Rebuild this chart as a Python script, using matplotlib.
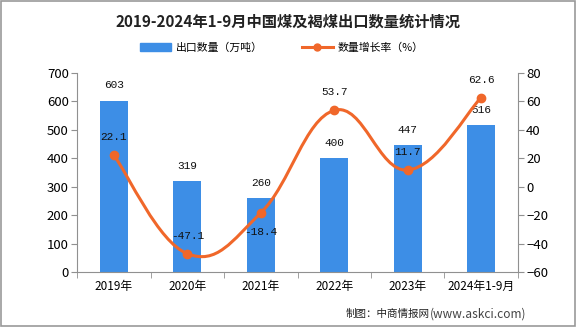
import matplotlib
matplotlib.use("Agg")
import numpy as np
import matplotlib.pyplot as plt
from matplotlib.path import Path
from matplotlib.patches import PathPatch, Rectangle
from matplotlib.lines import Line2D

plt.rcParams['font.family'] = ['Noto Sans CJK SC', 'DejaVu Sans']

# Data
years = ["2019年", "2020年", "2021年", "2022年", "2023年", "2024年1-9月"]
volume = [603, 319, 260, 400, 447, 516]
growth = [22.1, -47.1, -18.4, 53.7, 11.7, 62.6]
growth_labels = ["22.1", "-47.1", "-18.4", "53.7", "11.7", "62.6"]

bar_color = "#3d8ee6"
line_color = "#f0672a"
axis_color = "#909090"
num_font = ["Liberation Mono", "DejaVu Sans Mono"]

fig = plt.figure(figsize=(5.76, 3.27), dpi=100)
fig.patches.append(Rectangle((0.002, 0.003), 0.996, 0.994, transform=fig.transFigure,
                             fill=False, edgecolor="#999999", lw=1.2))
ax = fig.add_axes([0.134, 0.168, 0.765, 0.609])
ax2 = ax.twinx()

x = np.arange(len(years))
ax.bar(x, volume, width=0.38, color=bar_color, zorder=2)
for xi, v in zip(x, volume):
    ax.annotate(str(v), (xi, v), xytext=(0, 11), textcoords="offset points",
                ha="center", va="center", fontsize=8, color="#111111",
                family=num_font)

ax.set_xlim(-0.5, len(years) - 0.5)
ax.set_ylim(0, 700)
ax.set_yticks(range(0, 701, 100))
ax.set_xticks(x)
ax.set_xticklabels(years)
ax.set_xticks(np.arange(-0.5, len(years), 1), minor=True)
ax.tick_params(axis="x", which="major", length=0, pad=6, labelsize=8.5)
ax.tick_params(axis="x", which="minor", length=4, color=axis_color)
ax.tick_params(axis="y", length=4, color=axis_color, labelsize=9.5, pad=2)
for s in ["top", "right"]:
    ax.spines[s].set_visible(False)
for s in ["left", "bottom"]:
    ax.spines[s].set_color(axis_color)

# smooth growth curve (cubic Bezier through the data points)
pts = np.column_stack([x, growth]).astype(float)
verts = [tuple(pts[0])]
codes = [Path.MOVETO]
t = 0.2
for i in range(len(pts) - 1):
    p0 = pts[max(i - 1, 0)]
    p1 = pts[i]
    p2 = pts[i + 1]
    p3 = pts[min(i + 2, len(pts) - 1)]
    c1 = p1 + (p2 - p0) * t
    c2 = p2 - (p3 - p1) * t
    verts += [tuple(c1), tuple(c2), tuple(p2)]
    codes += [Path.CURVE4] * 3
ax2.add_patch(PathPatch(Path(verts, codes), fill=False, edgecolor=line_color,
                        lw=2.2, zorder=3))
ax2.plot(x, growth, "o", color=line_color, ms=6, zorder=4)
offsets = [13, 13, -14, 13, 13, 13]
for xi, g, lab, off in zip(x, growth, growth_labels, offsets):
    ax2.annotate(lab, (xi, g), xytext=(0, off), textcoords="offset points",
                 ha="center", va="center", fontsize=8, color="#111111",
                 family=num_font)

ax2.set_ylim(-60, 80)
ax2.set_yticks(range(-60, 81, 20))
ax2.tick_params(axis="y", length=4, color=axis_color, labelsize=9.5, pad=2)
for s in ["top", "left", "bottom"]:
    ax2.spines[s].set_visible(False)
ax2.spines["right"].set_color(axis_color)

fig.text(0.5, 0.935, "2019-2024年1-9月中国煤及褐煤出口数量统计情况", ha="center",
         va="center", fontsize=11, fontweight="bold", color="#222222")

handles = [Rectangle((0, 0), 1, 1, color=bar_color),
           Line2D([], [], color=line_color, lw=2.2, marker="o", ms=5)]
fig.legend(handles, ["出口数量（万吨）", "数量增长率（%）"], loc="center",
           bbox_to_anchor=(0.49, 0.855), ncol=2, frameon=False, fontsize=7.8,
           handlelength=2.8, handleheight=0.7, columnspacing=3.6, handletextpad=0.5)

fig.text(0.745, 0.04, "制图：中商情报网", ha="right", va="center", fontsize=7.6,
         color="#222222")
fig.text(0.747, 0.04, "(www.askci.com)", ha="left", va="center", fontsize=8.6,
         color="#444444")

fig.savefig("out.png", dpi=100)
